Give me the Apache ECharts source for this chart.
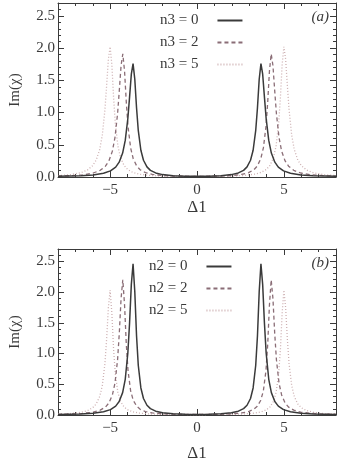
<!DOCTYPE html>
<html><head><meta charset="utf-8">
<script src="https://cdn.jsdelivr.net/npm/echarts@6/dist/echarts.min.js"></script>
<style>html,body{margin:0;padding:0;background:#fff}#c{width:340px;height:463px}</style>
</head><body><div id="c"></div>
<script>
// Panel (a): Im(chi) vs Delta1 for n3 = 0, 2, 5
const topN0 = [[-8,0.01],[-6.68,0.019],[-5.98,0.031],[-5.38,0.057],[-4.98,0.095],[-4.68,0.154],[-4.48,0.23],[-4.28,0.371],[-4.13,0.567],[-3.98,0.908],[-3.88,1.243],[-3.78,1.595],[-3.68,1.76],[-3.58,1.517],[-3.48,1.074],[-3.38,0.722],[-3.23,0.415],[-3.08,0.26],[-2.88,0.157],[-2.68,0.103],[-2.38,0.063],[-1.98,0.037],[-1.38,0.021],[-0.68,0.012],[0,0.01],[0.68,0.012],[1.38,0.021],[1.98,0.037],[2.38,0.063],[2.68,0.103],[2.88,0.157],[3.08,0.26],[3.23,0.415],[3.38,0.722],[3.48,1.074],[3.58,1.517],[3.68,1.76],[3.78,1.595],[3.88,1.243],[3.98,0.908],[4.13,0.567],[4.28,0.371],[4.48,0.23],[4.68,0.154],[4.98,0.095],[5.38,0.057],[5.98,0.031],[6.68,0.019],[8,0.01]];
const topN2 = [[-8,0.013],[-7.27,0.02],[-6.57,0.034],[-5.97,0.062],[-5.57,0.103],[-5.27,0.168],[-5.07,0.249],[-4.87,0.402],[-4.72,0.615],[-4.57,0.986],[-4.47,1.348],[-4.37,1.73],[-4.27,1.91],[-4.17,1.646],[-4.07,1.165],[-3.97,0.783],[-3.82,0.451],[-3.67,0.283],[-3.47,0.17],[-3.27,0.112],[-2.97,0.068],[-2.57,0.04],[-1.97,0.022],[-1.27,0.013],[0,0.01],[1.27,0.013],[1.97,0.022],[2.57,0.04],[2.97,0.068],[3.27,0.112],[3.47,0.17],[3.67,0.283],[3.82,0.451],[3.97,0.783],[4.07,1.165],[4.17,1.646],[4.27,1.91],[4.37,1.73],[4.47,1.348],[4.57,0.986],[4.72,0.615],[4.87,0.402],[5.07,0.249],[5.27,0.168],[5.57,0.103],[5.97,0.062],[6.57,0.034],[7.27,0.02],[8,0.013]];
const topN5 = [[-8,0.021],[-7.3,0.036],[-6.7,0.065],[-6.3,0.109],[-6.0,0.177],[-5.8,0.264],[-5.6,0.426],[-5.45,0.65],[-5.3,1.042],[-5.2,1.426],[-5.1,1.83],[-5.0,2.02],[-4.9,1.741],[-4.8,1.232],[-4.7,0.828],[-4.55,0.477],[-4.4,0.299],[-4.2,0.18],[-4.0,0.119],[-3.7,0.072],[-3.3,0.043],[-2.7,0.024],[-2.0,0.014],[0,0.01],[2.0,0.014],[2.7,0.024],[3.3,0.043],[3.7,0.072],[4.0,0.119],[4.2,0.18],[4.4,0.299],[4.55,0.477],[4.7,0.828],[4.8,1.232],[4.9,1.741],[5.0,2.02],[5.1,1.83],[5.2,1.426],[5.3,1.042],[5.45,0.65],[5.6,0.426],[5.8,0.264],[6.0,0.177],[6.3,0.109],[6.7,0.065],[7.3,0.036],[8,0.021]];
// Panel (b): Im(chi) vs Delta1 for n2 = 0, 2, 5
const botN0 = [[-8,0.01],[-6.68,0.017],[-5.98,0.029],[-5.38,0.052],[-4.98,0.088],[-4.68,0.145],[-4.48,0.219],[-4.28,0.364],[-4.13,0.581],[-3.98,1.009],[-3.88,1.501],[-3.78,2.121],[-3.68,2.46],[-3.58,2.005],[-3.48,1.289],[-3.38,0.809],[-3.23,0.44],[-3.08,0.268],[-2.88,0.159],[-2.68,0.104],[-2.38,0.062],[-1.98,0.037],[-1.38,0.02],[-0.68,0.012],[0,0.01],[0.68,0.012],[1.38,0.02],[1.98,0.037],[2.38,0.062],[2.68,0.104],[2.88,0.159],[3.08,0.268],[3.23,0.44],[3.38,0.809],[3.48,1.289],[3.58,2.005],[3.68,2.46],[3.78,2.121],[3.88,1.501],[3.98,1.009],[4.13,0.581],[4.28,0.364],[4.48,0.219],[4.68,0.145],[4.98,0.088],[5.38,0.052],[5.98,0.029],[6.68,0.017],[8,0.01]];
const botN2 = [[-8,0.011],[-7.27,0.015],[-6.57,0.026],[-5.97,0.047],[-5.57,0.079],[-5.27,0.129],[-5.07,0.196],[-4.87,0.326],[-4.72,0.519],[-4.57,0.902],[-4.47,1.342],[-4.37,1.896],[-4.27,2.2],[-4.17,1.793],[-4.07,1.153],[-3.97,0.724],[-3.82,0.393],[-3.67,0.24],[-3.47,0.142],[-3.27,0.093],[-2.97,0.056],[-2.57,0.033],[-1.97,0.018],[-1.27,0.011],[0,0.008],[1.27,0.011],[1.97,0.018],[2.57,0.033],[2.97,0.056],[3.27,0.093],[3.47,0.142],[3.67,0.24],[3.82,0.393],[3.97,0.724],[4.07,1.153],[4.17,1.793],[4.27,2.2],[4.37,1.896],[4.47,1.342],[4.57,0.902],[4.72,0.519],[4.87,0.326],[5.07,0.196],[5.27,0.129],[5.57,0.079],[5.97,0.047],[6.57,0.026],[7.27,0.015],[8,0.011]];
const botN5 = [[-8,0.014],[-7.3,0.024],[-6.7,0.043],[-6.3,0.072],[-6.0,0.119],[-5.8,0.181],[-5.6,0.3],[-5.45,0.479],[-5.3,0.832],[-5.2,1.238],[-5.1,1.75],[-5.0,2.03],[-4.9,1.654],[-4.8,1.064],[-4.7,0.668],[-4.55,0.363],[-4.4,0.221],[-4.2,0.131],[-4.0,0.086],[-3.7,0.052],[-3.3,0.03],[-2.7,0.017],[-2.0,0.01],[0,0.008],[2.0,0.01],[2.7,0.017],[3.3,0.03],[3.7,0.052],[4.0,0.086],[4.2,0.131],[4.4,0.221],[4.55,0.363],[4.7,0.668],[4.8,1.064],[4.9,1.654],[5.0,2.03],[5.1,1.75],[5.2,1.238],[5.3,0.832],[5.45,0.479],[5.6,0.3],[5.8,0.181],[6.0,0.119],[6.3,0.072],[6.7,0.043],[7.3,0.024],[8,0.014]];
const topNames = ['n3 = 0','n3 = 2','n3 = 5'];
const botNames = ['n2 = 0','n2 = 2','n2 = 5'];
const xMajorTicks = [-5, 0, 5];
const panelLabels = ['(a)', '(b)'];
const xAxisTitle = 'Δ1';
const yAxisTitle = 'Im(χ)';

const FONT = 'Liberation Serif';
const AX = '#3a3a3a';
const styles = [
  {color:'#3a3a3a', type:'solid', width:1.5},
  {color:'#8a6d76', type:[4,3], width:1.3},
  {color:'#cdb0b2', type:[1,2], width:1.3}
];
const grids = [
  {left:52, right:4, top:3, height:174},
  {left:52, right:4, top:249, height:175}
];
const nameGaps = [22, 30];

const xAxes = [], yAxes = [], series = [], legends = [], graphics = [];
grids.forEach((g, gi) => {
  const base = xAxes.length;
  xAxes.push({gridIndex:gi, type:'value', min:-8, max:8, position:'bottom',
    name: xAxisTitle, nameLocation:'middle', nameGap:nameGaps[gi],
    nameTextStyle:{fontFamily:FONT, fontSize:17, color:AX},
    axisLine:{show:true, onZero:false, lineStyle:{color:AX, width:1}},
    axisTick:{show:true, inside:true, length:6, customValues:xMajorTicks, lineStyle:{color:AX}},
    axisLabel:{show:true, customValues:xMajorTicks, fontFamily:FONT, fontSize:15, color:AX, margin:6,
      formatter:v => String(v).replace('-', '\u2212')},
    splitLine:{show:false}});
  xAxes.push({gridIndex:gi, type:'value', min:-8, max:8, interval:1, position:'bottom',
    axisLine:{show:false, onZero:false}, axisTick:{show:true, inside:true, length:3, lineStyle:{color:AX}},
    axisLabel:{show:false}, splitLine:{show:false}});
  xAxes.push({gridIndex:gi, type:'value', min:-8, max:8, position:'top',
    axisLine:{show:true, onZero:false, lineStyle:{color:AX, width:1}},
    axisTick:{show:true, inside:true, length:6, customValues:xMajorTicks, lineStyle:{color:AX}},
    axisLabel:{show:false}, splitLine:{show:false}});
  xAxes.push({gridIndex:gi, type:'value', min:-8, max:8, interval:1, position:'top',
    axisLine:{show:false, onZero:false}, axisTick:{show:true, inside:true, length:3, lineStyle:{color:AX}},
    axisLabel:{show:false}, splitLine:{show:false}});
  const ybase = yAxes.length;
  yAxes.push({gridIndex:gi, type:'value', min:0, max:2.7, interval:0.5, position:'left',
    name: yAxisTitle, nameLocation:'middle', nameGap:35, nameRotate:90,
    nameTextStyle:{fontFamily:FONT, fontSize:15, color:AX},
    axisLine:{show:true, onZero:false, lineStyle:{color:AX, width:1}},
    axisTick:{show:true, inside:true, length:6, lineStyle:{color:AX}},
    minorTick:{show:true, splitNumber:5, length:3, lineStyle:{color:AX}},
    axisLabel:{show:true, fontFamily:FONT, fontSize:15, color:AX, margin:3, showMaxLabel:false,
      formatter:v => v.toFixed(1)},
    splitLine:{show:false}});
  yAxes.push({gridIndex:gi, type:'value', min:0, max:2.7, interval:0.5, position:'right',
    axisLine:{show:true, onZero:false, lineStyle:{color:AX, width:1}},
    axisTick:{show:true, inside:true, length:6, lineStyle:{color:AX}},
    minorTick:{show:true, splitNumber:5, length:3, lineStyle:{color:AX}},
    axisLabel:{show:false}, splitLine:{show:false}});
  const names = gi === 0 ? topNames : botNames;
  const datas = gi === 0 ? [topN0, topN2, topN5] : [botN0, botN2, botN5];
  datas.forEach((d, si) => {
    series.push({type:'line', name:names[si], xAxisIndex:base, yAxisIndex:ybase, data:d,
      symbol:'none', smooth:false, lineStyle:styles[si], itemStyle:{color:styles[si].color},
      z: 3 - si, animation:false});
  });
  legends.push({data:names, orient:'vertical', align:'right',
    left: gi === 0 ? 155 : 144, top: g.top + 5, itemWidth:25, itemHeight:14, itemGap:7,
    itemStyle:{opacity:0},
    textStyle:{fontFamily:FONT, fontSize:15, color:AX, padding:[0, 14, 0, 0]},
    selectedMode:false});
  graphics.push({type:'text', right:11, top:g.top + 7,
    style:{text:panelLabels[gi], font:'italic 15px "Liberation Serif"', fill:AX}});
});

const chart = echarts.init(document.getElementById('c'), null, {renderer:'canvas'});
chart.setOption({
  animation:false,
  backgroundColor:'#fff',
  grid:grids,
  xAxis:xAxes,
  yAxis:yAxes,
  series:series,
  legend:legends,
  graphic:graphics
});
</script></body></html>
